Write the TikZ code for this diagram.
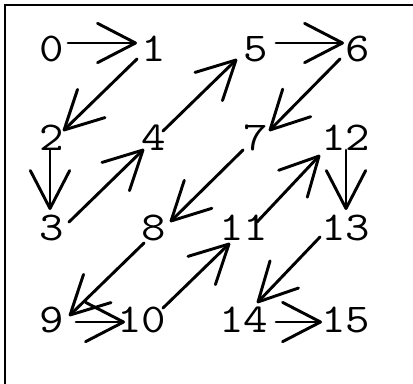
\documentclass[tikz,border=0pt]{standalone}
\usetikzlibrary{arrows.meta}
\newcommand{\numtxt}[1]{\scalebox{1.16}[1]{\ttfamily\fontsize{30.7}{36}\selectfont #1}}
\begin{document}
\begin{tikzpicture}[x=0.75pt,y=-0.75pt,
  num/.style={anchor=base east,inner sep=0pt},
  arr/.style={line width=2.2pt,line cap=round,-{Straight Barb[length=28.5pt,width=29.5pt,round]}},
  frame/.style={line width=1.6pt}]
\useasboundingbox (0,0) rectangle (413,383);
\clip (0,0) rectangle (413,383);
\draw[frame] (5,5) rectangle (460,460);
% nodes
\node[num] (n0) at (64.5,61) {\numtxt{0}};
\node[num] (n1) at (166.5,61) {\numtxt{1}};
\node[num] (n5) at (268.5,61) {\numtxt{5}};
\node[num] (n6) at (370.5,61) {\numtxt{6}};
\node[num] (n2) at (64.5,150) {\numtxt{2}};
\node[num] (n4) at (166.5,150) {\numtxt{4}};
\node[num] (n7) at (268.5,150) {\numtxt{7}};
\node[num] (n12) at (370.5,150) {\numtxt{12}};
\node[num] (n3) at (64.5,240) {\numtxt{3}};
\node[num] (n8) at (166.5,240) {\numtxt{8}};
\node[num] (n11) at (268.5,240) {\numtxt{11}};
\node[num] (n13) at (370.5,240) {\numtxt{13}};
\node[num] (n9) at (64.5,332) {\numtxt{9}};
\node[num] (n10) at (166.5,332) {\numtxt{10}};
\node[num] (n14) at (268.5,332) {\numtxt{14}};
\node[num] (n15) at (370.5,332) {\numtxt{15}};
% arrows
\draw[arr] ([shift={(3.5,-18)}]n0.base east) -- ([shift={(-29.5,-18)}]n1.base east);
\draw[arr] ([shift={(-29.5,-2)}]n1.base east) -- ([shift={(-1.5,-19)}]n2.base east);
\draw[arr] ([shift={(-14.5,0)}]n2.base east) -- ([shift={(-14.5,-30)}]n3.base east);
\draw[arr] ([shift={(4.5,-18)}]n3.base east) -- ([shift={(-22.5,-1)}]n4.base east);
\draw[arr] ([shift={(-3.5,-19)}]n4.base east) -- ([shift={(-31.5,-2)}]n5.base east);
\draw[arr] ([shift={(7.5,-18)}]n5.base east) -- ([shift={(-26.5,-18)}]n6.base east);
\draw[arr] ([shift={(-30.5,-2)}]n6.base east) -- ([shift={(0.5,-19)}]n7.base east);
\draw[arr] ([shift={(-25.5,0)}]n7.base east) -- ([shift={(3.5,-18)}]n8.base east);
\draw[arr] ([shift={(-22.5,3)}]n8.base east) -- ([shift={(4.5,-16)}]n9.base east);
\draw[arr] ([shift={(11.5,-10)}]n9.base east) -- ([shift={(-41.5,-10)}]n10.base east);
\draw[arr] ([shift={(-3.5,-24)}]n10.base east) -- ([shift={(-38.5,3)}]n11.base east);
\draw[arr] ([shift={(-11.5,-18)}]n11.base east) -- ([shift={(-50.5,5)}]n12.base east);
\draw[arr] ([shift={(-24.5,0)}]n12.base east) -- ([shift={(-24.5,-30)}]n13.base east);
\draw[arr] ([shift={(-50.5,-3)}]n13.base east) -- ([shift={(-11.5,-29)}]n14.base east);
\draw[arr] ([shift={(7.5,-10)}]n14.base east) -- ([shift={(-48.5,-10)}]n15.base east);
\end{tikzpicture}
\end{document}
